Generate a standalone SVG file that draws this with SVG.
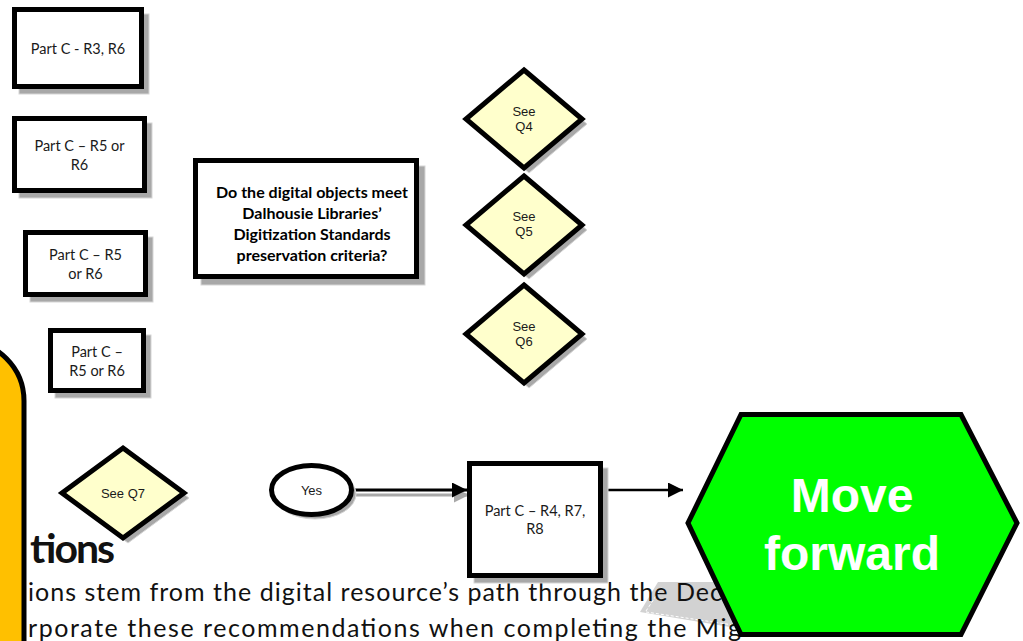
<svg xmlns="http://www.w3.org/2000/svg" width="1023" height="641" viewBox="0 0 1023 641">
  <style>
    .box { fill: #ffffff; stroke: #000000; stroke-width: 5; }
    .shadow { fill: #a8a8a8; stroke: #d6d6d6; stroke-width: 1; }
    .dec { fill: #ffffcc; stroke: #000000; stroke-width: 5; stroke-linejoin: miter; }
    .lbl { font-family: Lato, "Liberation Sans", sans-serif; font-size: 14.5px; fill: #1a1a1a; text-anchor: middle; }
    .q { font-family: Lato, "Liberation Sans", sans-serif; font-size: 16px; font-weight: bold; fill: #000000; text-anchor: middle; }
    .dlbl { font-family: "Liberation Sans", Arial, sans-serif; font-size: 13px; fill: #1a1a1a; text-anchor: middle; }
    .body { font-family: Lato, "Liberation Sans", sans-serif; font-size: 25px; fill: #111111; }
    .big { font-family: "Liberation Sans", Arial, sans-serif; font-size: 48px; font-weight: bold; fill: #ffffff; text-anchor: middle; }
  </style>
  <defs>
    <marker id="arrowHead" viewBox="0 0 10 10" refX="10" refY="5" markerWidth="5" markerHeight="5" markerUnits="strokeWidth" orient="auto">
      <path d="M0,0 L10,5 L0,10 z" fill="#000000"/>
    </marker>
    <marker id="arrowHeadThin" viewBox="0 0 10 10" refX="10" refY="5" markerWidth="6" markerHeight="6" markerUnits="strokeWidth" orient="auto">
      <path d="M0,0 L10,5 L0,10 z" fill="#000000"/>
    </marker>
    <marker id="arrowHeadShadow" viewBox="0 0 10 10" refX="10" refY="5" markerWidth="5" markerHeight="5" markerUnits="strokeWidth" orient="auto">
      <path d="M0,0 L10,5 L0,10 z" fill="#a8a8a8"/>
    </marker>
  </defs>

  <rect width="1023" height="641" fill="#ffffff"/>

  <!-- page text behind the flowchart -->
  <g id="page-text">
    <polygon points="658,582 748,582 748,630 640,612" fill="#d2d2d2"/>
    <polyline points="646,611 662,587" fill="none" stroke="#ffffff" stroke-width="1" stroke-dasharray="3,2"/>
    <polyline points="646,612 740,626" fill="none" stroke="#ffffff" stroke-width="1" stroke-dasharray="3,2"/>
    <text x="28" y="563" font-family="Lato, 'Liberation Sans', sans-serif" font-size="41" font-weight="bold" fill="#111111" textLength="85">tions</text>
    <text class="body" x="28" y="601" textLength="694">ions stem from the digital resource’s path through the Dec</text>
    <text class="body" x="28" y="637" textLength="713">rporate these recommendations when completing the Mig</text>
  </g>

  <!-- side tab -->
  <g id="side-tab">
    <rect x="-100" y="341" width="124" height="420" rx="60" ry="60" fill="#ffc000" stroke="#000000" stroke-width="5"/>
  </g>

  <g id="connectors">
    <line x1="356" y1="495" x2="469" y2="495" stroke="#a8a8a8" stroke-width="3" marker-end="url(#arrowHeadShadow)"/>
    <line x1="354" y1="490" x2="467" y2="490" stroke="#000000" stroke-width="3" marker-end="url(#arrowHead)"/>
    <line x1="603" y1="490" x2="683" y2="490" stroke="#000000" stroke-width="2.5" marker-end="url(#arrowHeadThin)"/>
  </g>

  <g id="r3r6">
    <rect class="shadow" x="19" y="14" width="130" height="80"/>
    <rect class="box" x="14.5" y="9.5" width="127" height="77"/>
    <text class="lbl" x="78" y="54">Part C - R3, R6</text>
  </g>

  <g id="r5r6-a">
    <rect class="shadow" x="19" y="123" width="133" height="75"/>
    <rect class="box" x="14.5" y="118.5" width="130" height="72"/>
    <text class="lbl" x="79.5" y="151">Part C – R5 or</text>
    <text class="lbl" x="79.5" y="170">R6</text>
  </g>

  <g id="r5r6-b">
    <rect class="shadow" x="30" y="237" width="123" height="65"/>
    <rect class="box" x="25.5" y="232.5" width="120" height="62"/>
    <text class="lbl" x="85.5" y="260">Part C – R5</text>
    <text class="lbl" x="85.5" y="279">or R6</text>
  </g>

  <g id="r5r6-c">
    <rect class="shadow" x="55" y="335" width="96" height="63"/>
    <rect class="box" x="50.5" y="330.5" width="93" height="60"/>
    <text class="lbl" x="97" y="357">Part C –</text>
    <text class="lbl" x="97" y="376">R5 or R6</text>
  </g>

  <g id="question">
    <rect class="shadow" x="201" y="166" width="224" height="119"/>
    <rect class="box" x="195.5" y="160.5" width="221" height="116"/>
    <text class="q" x="312" y="198">Do the digital objects meet</text>
    <text class="q" x="312" y="219">Dalhousie Libraries’</text>
    <text class="q" x="312" y="240">Digitization Standards</text>
    <text class="q" x="312" y="261">preservation criteria?</text>
  </g>

  <g id="see-q4">
    <polygon class="shadow" points="529,75 587,124 529,173 471,124"/>
    <polygon class="dec" points="524,70 582,119 524,168 466,119"/>
    <text class="dlbl" x="524" y="116">See</text>
    <text class="dlbl" x="524" y="131">Q4</text>
  </g>

  <g id="see-q5">
    <polygon class="shadow" points="529,181 587,230 529,279 471,230"/>
    <polygon class="dec" points="524,176 582,225 524,274 466,225"/>
    <text class="dlbl" x="524" y="221">See</text>
    <text class="dlbl" x="524" y="236">Q5</text>
  </g>

  <g id="see-q6">
    <polygon class="shadow" points="529,290 587,339 529,388 471,339"/>
    <polygon class="dec" points="524,285 582,334 524,383 466,334"/>
    <text class="dlbl" x="524" y="331">See</text>
    <text class="dlbl" x="524" y="346">Q6</text>
  </g>

  <g id="see-q7">
    <polygon class="shadow" points="128,453 189,498 128,543 67,498"/>
    <polygon class="dec" points="123,448 184,493 123,538 62,493"/>
    <text class="dlbl" x="123" y="498">See Q7</text>
  </g>

  <g id="yes">
    <ellipse class="shadow" cx="315" cy="494" rx="41" ry="25"/>
    <ellipse class="box" cx="311.5" cy="490" rx="40" ry="24.5"/>
    <text class="dlbl" x="311.5" y="495">Yes</text>
  </g>

  <g id="r4r7r8">
    <rect class="shadow" x="474" y="468" width="134" height="115"/>
    <rect class="box" x="469.5" y="463.5" width="131" height="112"/>
    <text class="lbl" x="535" y="516">Part C – R4, R7,</text>
    <text class="lbl" x="535" y="534">R8</text>
  </g>

  <g id="move-forward">
    <polygon points="741,414.5 961,414.5 1017,523 961,634.5 741,634.5 688,523" fill="#00ff00" stroke="#000000" stroke-width="5"/>
    <text class="big" x="852" y="512">Move</text>
    <text class="big" x="852" y="570">forward</text>
  </g>
</svg>
